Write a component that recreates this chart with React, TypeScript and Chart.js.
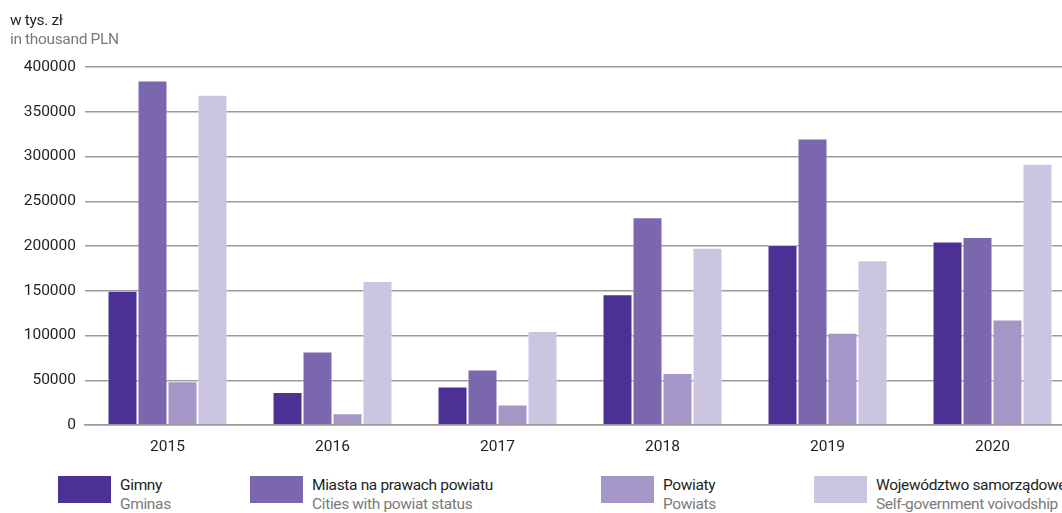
import React, { useEffect, useRef } from "react";
import { Chart, registerables } from "chart.js";

Chart.register(...registerables);

const categories = ["2015", "2016", "2017", "2018", "2019", "2020"];
const gminy = [150000, 37000, 43000, 146000, 201000, 205000];
const miasta = [385000, 82000, 62000, 232000, 320000, 210000];
const powiaty = [49000, 13000, 23000, 58000, 103000, 118000];
const wojewodztwo = [369000, 161000, 105000, 198000, 184000, 292000];

const seriesPl = ["Gimny", "Miasta na prawach powiatu", "Powiaty", "Województwo samorządowe"];
const seriesEn = ["Gminas", "Cities with powiat status", "Powiats", "Self-government voivodship"];
const colors = ["#4a3193", "#7b67ae", "#a497c8", "#cbc5e1"];
const legendX = [58, 250, 601, 814];

const FONT = "Roboto, 'Noto Sans', sans-serif";

export default function App() {
  const ref = useRef<HTMLCanvasElement | null>(null);
  useEffect(() => {
    if (!ref.current) return;
    const values = [gminy, miasta, powiaty, wojewodztwo];
    const chart = new Chart(ref.current, {
      type: "bar",
      data: {
        labels: categories,
        datasets: values.map((v, i) => ({
          label: seriesPl[i],
          data: v,
          backgroundColor: colors[i],
          borderColor: "rgba(255,255,255,0.45)",
          borderWidth: 1,
          categoryPercentage: 0.727,
          barPercentage: 1,
        })),
      },
      options: {
        responsive: false,
        animation: false,
        layout: { padding: { top: 67, left: 0, right: 0, bottom: 0 } },
        plugins: { legend: { display: false }, tooltip: { enabled: false }, title: { display: false } },
        scales: {
          x: {
            grid: { display: false },
            border: { display: true, color: "#9a9a9a", width: 1.5 },
            ticks: { color: "#231f20", font: { family: FONT, size: 15.5 }, padding: 5 },
            afterFit: (s: any) => { s.height = 35; },
          },
          y: {
            min: 0,
            max: 400000,
            ticks: {
              stepSize: 50000,
              color: "#231f20",
              font: { family: FONT, size: 15.5 },
              padding: 9,
              callback: (v: any) => String(v),
            },
            grid: { color: "#9a9a9a", lineWidth: 1.5, drawTicks: false },
            border: { display: false },
            afterFit: (s: any) => { s.width = 85; },
          },
        },
      },
    });
    return () => chart.destroy();
  }, []);

  const textBase: React.CSSProperties = {
    position: "absolute",
    fontFamily: FONT,
    fontSize: 15.5,
    lineHeight: "19px",
    letterSpacing: "-0.35px",
    whiteSpace: "nowrap",
  };

  return (
    <div style={{ position: "fixed", left: 0, top: 0, width: 1062, height: 513, overflow: "hidden", background: "#fff" }}>
      <canvas ref={ref} width={1075} height={460} style={{ position: "absolute", left: 0, top: 0 }} />
      <div style={{ ...textBase, left: 10, top: 11 }}>
        <div style={{ color: "#231f20" }}>w tys. zł</div>
        <div style={{ color: "#7a7a7a" }}>in thousand PLN</div>
      </div>
      {seriesPl.map((s, i) => (
        <React.Fragment key={s}>
          <div style={{ position: "absolute", left: legendX[i], top: 476, width: 53, height: 27, background: colors[i] }} />
          <div style={{ ...textBase, left: legendX[i] + 62, top: 476 }}>
            <div style={{ color: "#231f20" }}>{s}</div>
            <div style={{ color: "#7a7a7a" }}>{seriesEn[i]}</div>
          </div>
        </React.Fragment>
      ))}
    </div>
  );
}
